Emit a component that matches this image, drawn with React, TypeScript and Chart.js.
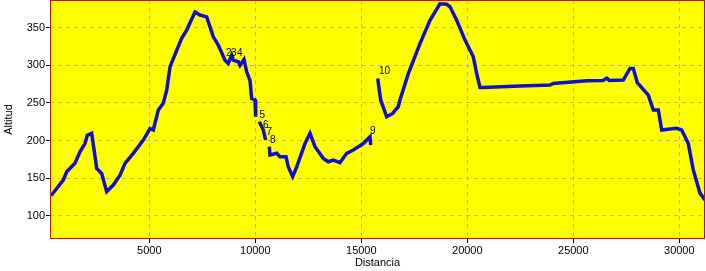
import React, { useEffect, useRef } from "react";
import { Chart, registerables } from "chart.js";

Chart.register(...registerables);

// Profile: distance (m) and altitude (m); null altitude = gap in the track
const distance = [
  363, 943, 1104, 1495, 1731, 1967, 2075, 2283, 2519, 2755, 2991, 3302, 3618, 3854, 4245, 4717,
  5033, 5189, 5425, 5660, 5821, 5977, 6292, 6528, 6764, 7156, 7392, 7708, 8019, 8255, 8571, 8726,
  8887, 8962, 9198, 9278, 9467, 9594, 9750, 9830, 9986, 10019,
  10100,
  10189, 10377, 10491,
  10580,
  10660, 10694, 11009, 11165, 11448, 11557, 11764, 11953, 12345, 12581, 12816, 13208, 13443,
  13679, 13995, 14311, 14623, 15094, 15410, 15444,
  15600,
  15774, 15915, 16198, 16481, 16745, 16825, 17217, 17769, 18241, 18712, 19028, 19184, 19500,
  19892, 20283, 20444, 20599, 20755, 22486, 23901, 24057, 25632, 26400, 26576, 26700, 27359,
  27675, 27830, 28019, 28538, 28774, 29010, 29170, 29877, 30113, 30425, 30661, 30977, 31212,
];
const altitude = [
  126.6, 147.5, 158.5, 169.7, 185, 196, 207, 209.6, 163, 156, 132, 140.8, 154, 169.7, 183, 200.7,
  216, 214, 240.6, 249.5, 267, 298, 320, 336, 347, 371, 367, 364.6, 338, 327, 307, 302.6,
  313.7, 307, 304.8, 300, 308, 291.5, 280, 256, 254, 231.6,
  null,
  225, 214, 200.7,
  null,
  191.8, 180.7, 183, 178.5, 178.5, 165, 152, 165, 196, 209.6, 191.8, 176.3, 171.8,
  174, 170.5, 183, 187.4, 196, 205, 194,
  null,
  282.7, 254, 231.6, 236, 245, 254, 289, 329, 360, 382, 381.5, 378, 360,
  333.6, 311.4, 289, 270.7, 270.7, 272.5, 273.8, 276, 279.5, 280, 283, 280, 280.5,
  296, 296, 276.9, 260.5, 240.6, 240.6, 214, 216.2, 214, 196, 160.8, 130, 121,
];

// Waypoint labels (text anchored at distance / altitude)
const waypointNames = ["2", "3", "4", "5", "6", "7", "8", "9", "10"];
const waypointDist = [8618, 8854, 9137, 10198, 10363, 10528, 10694, 15410, 15834];
const waypointAlt = [322.5, 322.5, 322.5, 240, 227, 218, 207, 219, 298.5];

const xTicks = [5000, 10000, 15000, 20000, 25000, 30000];
const yTicks = [100, 150, 200, 250, 300, 350];

const FONT = "'Liberation Sans', Arial, sans-serif";

export default function App() {
  const ref = useRef<HTMLCanvasElement>(null);

  useEffect(() => {
    const canvas = ref.current!;
    const points = distance.map((d, i) => ({ x: d, y: altitude[i] }));

    const bgPlugin = {
      id: "plotBg",
      beforeDraw(chart: any) {
        const { ctx, chartArea: a } = chart;
        ctx.save();
        ctx.fillStyle = "#ffff00";
        ctx.fillRect(a.left, a.top, a.right - a.left, a.bottom - a.top);
        ctx.restore();
      },
      afterDraw(chart: any) {
        const { ctx, chartArea: a } = chart;
        ctx.save();
        ctx.strokeStyle = "#e00000";
        ctx.lineWidth = 1;
        ctx.strokeRect(a.left + 0.5, a.top + 0.5, a.right - a.left - 1, a.bottom - a.top - 1);
        ctx.restore();
      },
      afterDatasetsDraw(chart: any) {
        const { ctx } = chart;
        const xs = chart.scales.x;
        const ys = chart.scales.y;
        ctx.save();
        ctx.fillStyle = "#000";
        ctx.font = `10px ${FONT}`;
        ctx.textAlign = "left";
        ctx.textBaseline = "top";
        waypointNames.forEach((n, i) => {
          ctx.fillText(n, xs.getPixelForValue(waypointDist[i]), ys.getPixelForValue(waypointAlt[i]));
        });
        ctx.restore();
      },
    };

    const chart = new Chart(canvas, {
      type: "line",
      data: {
        datasets: [
          {
            data: points as any,
            borderColor: "#1010cc",
            borderWidth: 3.5,
            pointRadius: 0,
            tension: 0,
            spanGaps: false,
            fill: false,
          },
        ],
      },
      options: {
        animation: false,
        responsive: false,
        layout: { padding: { top: 0, right: 1, bottom: 0, left: 0 } },
        plugins: { legend: { display: false }, tooltip: { enabled: false } },
        scales: {
          x: {
            type: "linear",
            min: 316,
            max: 31212,
            afterBuildTicks: (s: any) => {
              s.ticks = xTicks.map((v) => ({ value: v }));
            },
            afterFit: (s: any) => {
              s.height = 32;
              s.paddingLeft = 0;
              s.paddingRight = 0;
            },
            grid: {
              color: "#c8b478",
              borderDash: [4, 4],
              tickLength: 4,
              tickColor: "#000",
              tickBorderDash: [],
            } as any,
            border: { display: false, dash: [4, 4] } as any,
            ticks: {
              color: "#000",
              font: { family: FONT, size: 11 },
              padding: 1,
              maxRotation: 0,
              autoSkip: false,
              callback: (v: any) => String(v),
            },
            title: {
              display: true,
              text: "Distancia",
              color: "#000",
              font: { family: FONT, size: 11 },
              padding: { top: 0, bottom: 1 },
            },
          },
          y: {
            type: "linear",
            min: 69,
            max: 387,
            afterBuildTicks: (s: any) => {
              s.ticks = yTicks.map((v) => ({ value: v }));
            },
            afterFit: (s: any) => {
              s.width = 50;
              s.paddingTop = 0;
              s.paddingBottom = 0;
            },
            grid: {
              color: "#c8b478",
              borderDash: [4, 4],
              tickLength: 4,
              tickColor: "#000",
              tickBorderDash: [],
            } as any,
            border: { display: false, dash: [4, 4] } as any,
            ticks: {
              color: "#000",
              font: { family: FONT, size: 11 },
              padding: 1,
              autoSkip: false,
              callback: (v: any) => String(v),
            },
            title: {
              display: true,
              text: "Altitud",
              color: "#000",
              font: { family: FONT, size: 11 },
              padding: { top: 2, bottom: 0 },
            },
          },
        },
      },
      plugins: [bgPlugin],
    });

    return () => chart.destroy();
  }, []);

  return (
    <div style={{ position: "fixed", left: 0, top: 0, width: 706, height: 271, background: "#fff" }}>
      <canvas ref={ref} width={706} height={271} style={{ display: "block" }} />
    </div>
  );
}
